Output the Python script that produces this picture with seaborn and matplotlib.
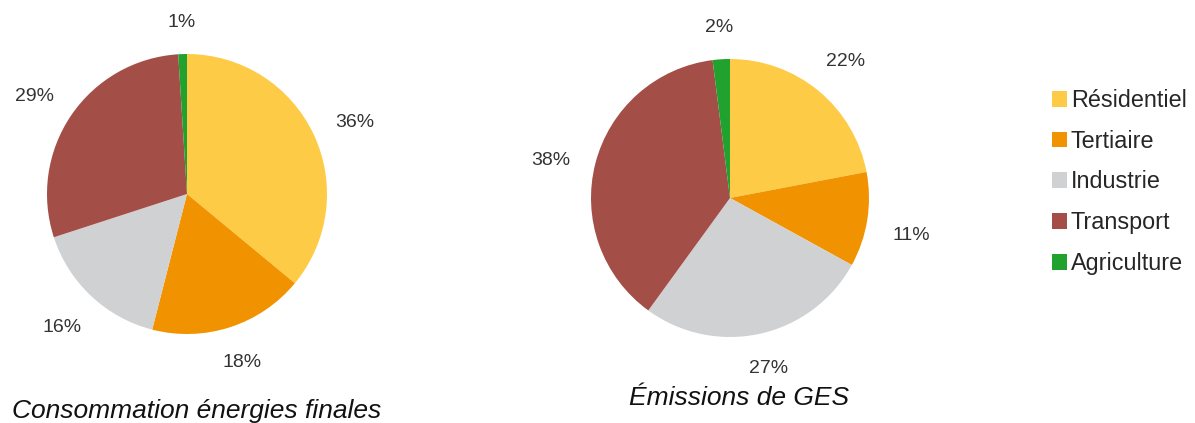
import matplotlib
matplotlib.use("Agg")
import numpy as np
import matplotlib.pyplot as plt
import seaborn as sns

# Sector shares (%)
sectors = ["Résidentiel", "Tertiaire", "Industrie", "Transport", "Agriculture"]
energy_share = [36, 18, 16, 29, 1]
ghg_share = [22, 11, 27, 38, 2]
titles = ["Consommation énergies finales", "Émissions de GES"]

sns.set_theme(style="white")
plt.rcParams["font.family"] = ["Liberation Sans", "DejaVu Sans"]

colors = sns.color_palette(["#FECB47", "#F19300", "#D0D1D3", "#A44E48", "#21A12E"])

W, H = 1195, 423
fig = plt.figure(figsize=(W / 100, H / 100), dpi=100)
fig.patch.set_facecolor("white")


def pie_axes(cx, cy, r):
    return fig.add_axes([(cx - r) / W, (H - cy - r) / H, 2 * r / W, 2 * r / H])


ax1 = pie_axes(187, 194, 140)
ax2 = pie_axes(730, 198, 139)

renderer = fig.canvas.get_renderer()
GAP_PX = 25   # clearance between the pie edge and the label box
DROP_PX = 9   # side labels in the upper part sit a little lower

wedges = None
for ax, vals in ((ax1, energy_share), (ax2, ghg_share)):
    w, _, autotexts = ax.pie(
        vals, colors=colors, startangle=90, counterclock=False,
        autopct=lambda p: f"{p:.0f}%", pctdistance=1.3,
        wedgeprops=dict(linewidth=0),
        textprops=dict(fontsize=14, color="#333333"),
    )
    ax.set_xlim(-1, 1)
    ax.set_ylim(-1, 1)
    ax.set_aspect("equal")
    ax.axis("off")
    # push each percentage label out so its box clears the rim evenly
    r_px = ax.transData.transform((1, 0))[0] - ax.transData.transform((0, 0))[0]
    for wedge, t in zip(w, autotexts):
        mid = np.deg2rad((wedge.theta1 + wedge.theta2) / 2)
        c, s = np.cos(mid), np.sin(mid)
        bb = t.get_window_extent(renderer)
        hw, hh = bb.width / 2, bb.height / 2 * 0.75
        d = 1 + (GAP_PX + hw * abs(c) + hh * abs(s)) / r_px
        dy = DROP_PX * c * c / r_px if s > -0.5 else 0.0
        t.set_position((d * c, d * s - dy))
    if wedges is None:
        wedges = w

fig.text(197 / W, 1 - 418 / H, titles[0], ha="center", va="baseline",
         fontsize=19, style="italic", color="#111111")
fig.text(739 / W, 1 - 405 / H, titles[1], ha="center", va="baseline",
         fontsize=19, style="italic", color="#111111")

fig.legend(wedges, sectors, loc="upper left", bbox_to_anchor=(1052 / W, 1 - 89 / H),
           frameon=False, fontsize=16.8, handlelength=0.65, handleheight=0.65,
           handletextpad=0.15, labelspacing=0.76, borderpad=0, borderaxespad=0)

fig.savefig("out.png", dpi=100, facecolor="white")
